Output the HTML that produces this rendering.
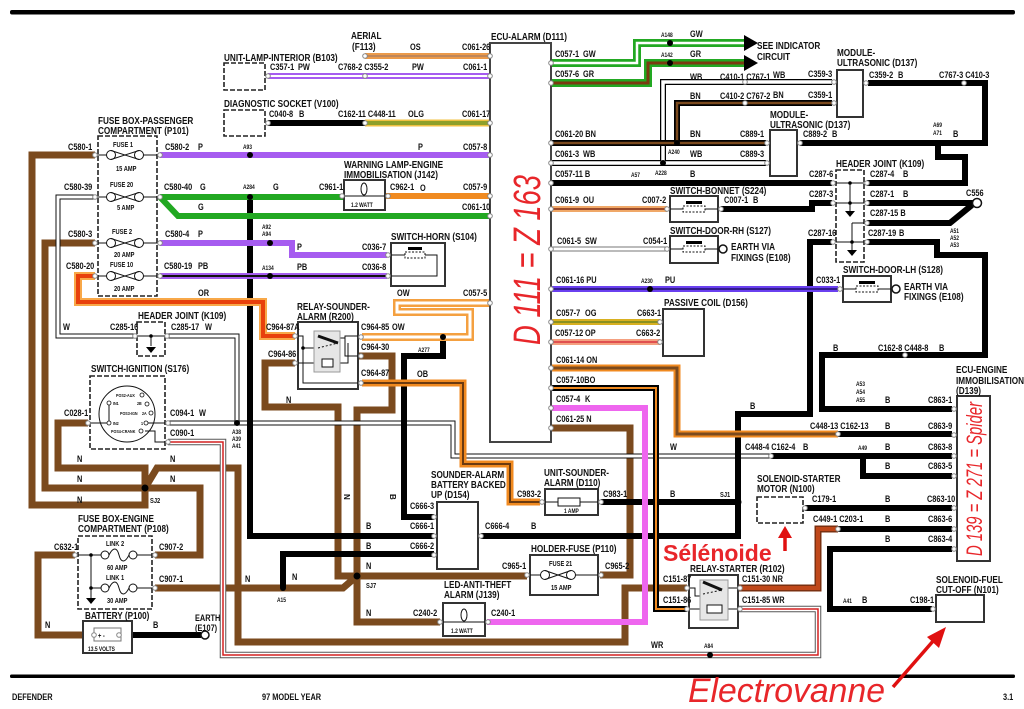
<!DOCTYPE html>
<html><head><meta charset="utf-8">
<style>
html,body{margin:0;padding:0;background:#fff;}
svg{display:block;}
.lb text{font-family:"Liberation Sans",Arial,sans-serif;font-weight:bold;font-size:9px;fill:#111;transform-box:fill-box;transform-origin:0 50%;transform:scaleX(.82);}
.lb text.h{font-size:10px;}
.lb text.s{font-size:6px;}
.lb text.s2{font-size:7px;}
.lb text.xs{font-size:4.5px;}
.w path{fill:none;stroke-linejoin:miter;stroke-linecap:butt;}
.cn circle{fill:#fff;stroke:#888;stroke-width:1;}
.jd circle{fill:#000;}
.bx rect{fill:#fff;stroke:#333;stroke-width:2;}
.db rect{fill:none;stroke:#222;stroke-width:1.6;stroke-dasharray:5 2;}
.th{fill:none;stroke:#111;stroke-width:1;}
.red{font-family:"Liberation Sans",Arial,sans-serif;fill:#e8262a;}
</style></head><body>
<svg width="1024" height="709" viewBox="0 0 1024 709" xmlns="http://www.w3.org/2000/svg">
<rect x="0" y="0" width="1024" height="709" fill="#fff"/>
<rect x="10" y="10" width="1005" height="4.5" rx="2" fill="#000"/>
<rect x="10" y="674.5" width="1005" height="3.5" rx="1.5" fill="#000"/>

<g class="w">
<g stroke="#7b4a1e" stroke-width="7">
<path d="M95,155H32V505H145V488"/>
<path d="M95,243H45V488H200V555H155"/>
<path d="M88,423H58V468H145V488"/>
<path d="M145,488L157,468H238V642H625V588H687"/>
<path d="M75,555H38V635H92"/>
<path d="M155,588H343L357,576"/>
<path d="M295,363H265V407H338V576H527"/>
<path d="M358,356H392V410H357V622H440"/>
<path d="M600,575H630V428H551"/>
</g>
<g stroke="#111" stroke-width="5">
<path d="M95,197H58V336H135"/>
<path d="M167,336H237V423"/>
<path d="M168,423H453V456H771"/>
</g>
<g stroke="#fff" stroke-width="3">
<path d="M95,197H58V336H135"/>
<path d="M167,336H237V423"/>
<path d="M168,423H453V456H771"/>
</g>
<path d="M168,442H223V655H818V609H738" stroke="#555" stroke-width="6.5"/>
<path d="M168,442H223V655H818V609H738" stroke="#fff" stroke-width="4.5"/>
<path d="M168,442H223V655H818V609H738" stroke="#d42020" stroke-width="1.5"/>
<g stroke="#000" stroke-width="6">
<path d="M268,123H365"/>
<path d="M250,197V536H434"/>
<path d="M443,337V356H404V517H434"/>
<path d="M283,588V554H434"/>
<path d="M601,502H738"/>
<path d="M481,536H738V414H810V242H832"/>
<path d="M551,183H832"/>
<path d="M721,209H812V203H832"/>
<path d="M868,83H985V143H800"/>
<path d="M938,143V157H965V183H867"/>
<path d="M867,203H975"/>
<path d="M867,223H950L972,205"/>
<path d="M867,242H937V255H985V355H822V409H952"/>
<path d="M838,434H952"/>
<path d="M771,456H952"/>
<path d="M863,456V476H952"/>
<path d="M805,508H952"/>
<path d="M838,529H952"/>
<path d="M952,549H830V609H932"/>
<path d="M120,635H201"/>
</g>
<g stroke="#a65cf0" stroke-width="6">
<path d="M160,155H490"/>
<path d="M160,243H292V255H387"/>
<path d="M160,276H387"/>
<path d="M268,76H490"/>
</g>
<path d="M160,276H387" stroke="#111" stroke-width="2"/>
<path d="M268,76H490" stroke="#fff" stroke-width="2"/>
<g stroke="#22a822" stroke-width="6">
<path d="M160,197H345"/>
<path d="M160,197L178,216H490"/>
</g>
<path d="M551,63H637V43H745" stroke="#22a822" stroke-width="8"/>
<path d="M551,63H637V43H745" stroke="#fff" stroke-width="2.5"/>
<path d="M551,83H648V63H745" stroke="#22a822" stroke-width="8"/>
<path d="M551,83H648V63H745" stroke="#7b3a10" stroke-width="3"/>
<path d="M385,196H490" stroke="#f08a20" stroke-width="6"/>
<path d="M365,56H490" stroke="#eb9a4a" stroke-width="6"/>
<path d="M365,56H490" stroke="#b08060" stroke-width="1.5"/>
<path d="M365,123H490" stroke="#f0c040" stroke-width="7"/>
<path d="M365,123H490" stroke="#8ea02a" stroke-width="4"/>
<path d="M95,276H78V302H263V336H295" stroke="#f8a848" stroke-width="8"/>
<path d="M95,276H78V302H263V336H295" stroke="#e8400c" stroke-width="4"/>
<path d="M490,303H397V312H470V337H362" stroke="#f4a040" stroke-width="8"/>
<path d="M490,303H397V312H470V337H362" stroke="#fff" stroke-width="3"/>
<path d="M362,383H463V464H510V502H540" stroke="#f08a20" stroke-width="7"/>
<path d="M362,383H463V464H510V502H540" stroke="#6b3a10" stroke-width="2"/>
<path d="M551,368H677V434H838" stroke="#f08a20" stroke-width="7"/>
<path d="M551,368H677V434H838" stroke="#7b4a1e" stroke-width="3"/>
<path d="M551,388H656V609H687" stroke="#000" stroke-width="6"/>
<path d="M551,388H656V609H687" stroke="#f08a20" stroke-width="2"/>
<path d="M551,408H645V622H487" stroke="#ee66ee" stroke-width="6"/>
<g stroke="#000" stroke-width="6"><path d="M551,163H766"/><path d="M663,163V82H832"/></g>
<g stroke="#fff" stroke-width="3.5"><path d="M551,163H766"/><path d="M663,163V82H832"/></g>
<g stroke="#000" stroke-width="6"><path d="M551,143H766"/><path d="M677,143V103H832"/></g>
<g stroke="#7b4a1e" stroke-width="2.5"><path d="M551,143H766"/><path d="M677,143V103H832"/></g>
<path d="M551,209H667" stroke="#f0a868" stroke-width="6"/>
<path d="M551,209H667" stroke="#9b4a2a" stroke-width="2"/>
<path d="M551,249H667" stroke="#777" stroke-width="5"/>
<path d="M551,249H667" stroke="#fff" stroke-width="3"/>
<path d="M551,289H838" stroke="#6a40f0" stroke-width="6"/>
<path d="M551,289H838" stroke="#20106a" stroke-width="1.5"/>
<path d="M551,322H660" stroke="#d8b020" stroke-width="6"/>
<path d="M551,322H660" stroke="#8a9020" stroke-width="2"/>
<path d="M551,342H660" stroke="#f4a080" stroke-width="6"/>
<path d="M551,342H660" stroke="#e05050" stroke-width="2"/>
<path d="M738,588H818V529H838" stroke="#7b3010" stroke-width="7"/>
<path d="M738,588H818V529H838" stroke="#c0481a" stroke-width="4"/>
</g>

<path d="M744,35L758,43L744,51Z" fill="#000"/>
<path d="M744,55L758,63L744,71Z" fill="#000"/>

<g class="bx">
<rect x="490" y="43" width="61" height="399" style="stroke:#444"/>
<rect x="344" y="180" width="41" height="30"/>
<rect x="391" y="243" width="54" height="43"/>
<rect x="298" y="322" width="60" height="67"/>
<rect x="437" y="502" width="41" height="67"/>
<rect x="545" y="489" width="53" height="26"/>
<rect x="530" y="555" width="68" height="40"/>
<rect x="443" y="603" width="42" height="33"/>
<rect x="689" y="575" width="49" height="53"/>
<rect x="670" y="196" width="48" height="26"/>
<rect x="670" y="236" width="48" height="27"/>
<rect x="663" y="309" width="41" height="47"/>
<rect x="837" y="70" width="26" height="47"/>
<rect x="770" y="130" width="27" height="46"/>
<rect x="843" y="276" width="48" height="26"/>
<rect x="957" y="396" width="33" height="165"/>
<rect x="936" y="595" width="48" height="27"/>
<rect x="83" y="621" width="49" height="32"/>
</g>
<g fill="#fff" stroke="none">
<rect x="224" y="63" width="41" height="27"/><rect x="224" y="110" width="41" height="26"/>
<rect x="757" y="497" width="46" height="26"/>
</g>
<g class="db">
<rect x="98" y="136" width="59" height="160"/>
<rect x="224" y="63" width="41" height="27"/>
<rect x="224" y="110" width="41" height="26"/>
<rect x="137" y="322" width="28" height="34"/>
<rect x="90" y="376" width="75" height="73"/>
<rect x="78" y="536" width="74" height="73"/>
<rect x="836" y="170" width="28" height="92"/>
<rect x="757" y="497" width="46" height="26"/>
</g>

<g class="th" stroke-width="1.2">
<path d="M95,155H107M143,155H160M95,197H107M143,197H160M95,243H107M143,243H160M95,276H107M143,276H160"/>
<g fill="#fff">
<circle cx="111" cy="155" r="4.5"/><circle cx="139" cy="155" r="4.5"/>
<circle cx="111" cy="197" r="4.5"/><circle cx="139" cy="197" r="4.5"/>
<circle cx="111" cy="243" r="4.5"/><circle cx="139" cy="243" r="4.5"/>
<circle cx="111" cy="276" r="4.5"/><circle cx="139" cy="276" r="4.5"/>
</g>
<path d="M111,150.5L139,159.5M111,159.5L139,150.5M111,192.5L139,201.5M111,201.5L139,192.5M111,238.5L139,247.5M111,247.5L139,238.5M111,271.5L139,280.5M111,280.5L139,271.5"/>
<path d="M527,575H541M575,575H600"/>
<circle cx="545" cy="575" r="4.5" fill="#fff"/><circle cx="571" cy="575" r="4.5" fill="#fff"/>
<path d="M545,570.5L571,579.5M545,579.5L571,570.5"/>
<path d="M75,555H101M137,555H155M91,555V598M91,588H101M137,588H155"/>
<circle cx="105" cy="555" r="4" fill="#fff"/><circle cx="133" cy="555" r="4" fill="#fff"/>
<circle cx="105" cy="588" r="4" fill="#fff"/><circle cx="133" cy="588" r="4" fill="#fff"/>
<path d="M109,555c4,-8 8,-8 10,0s6,8 10,0M109,588c4,-8 8,-8 10,0s6,8 10,0"/>
<path d="M137,336H165M151,336V346"/>
<path d="M836,183H864M836,203H864M850,183V211M852,223H867M852,223V250M836,242H864"/>
<circle cx="127" cy="414" r="28" fill="#fff"/>
<path d="M88,423H108M109,403V422M146,423H168M145,431H155V442H168"/>
<path d="M344,196H385M443,622H485"/>
<ellipse cx="364" cy="189" rx="3" ry="6" fill="#fff"/>
<ellipse cx="464" cy="615" rx="3" ry="6" fill="#fff"/>
<path d="M391,255H405M425,255H437V276H391"/>
<path d="M670,209H718M670,249H718V249H719M843,289H891"/>
<path d="M545,502H558M580,502H598"/>
<path d="M298,336H303V383H358M303,348H317M340,338H345V336H358M345,336V356H358M298,363H322M333,363H348V343"/>
<path d="M689,588H695V596H703M722,588H738M689,609H707M722,609H738"/>
<path d="M92,635H96"/>
</g>
<g fill="#e6e6e6" stroke="#999" stroke-width="1">
<rect x="314" y="331" width="26" height="41"/>
<rect x="700" y="580" width="28" height="40"/>
</g>
<g fill="#fff" stroke="#111" stroke-width="1">
<rect x="322" y="359" width="11" height="8"/>
<rect x="707" y="605" width="15" height="8"/>
<rect x="558" y="498" width="22" height="8"/>
<rect x="94" y="628" width="27" height="13" stroke="#777"/>
<path d="M318,336L338,343" stroke-width="3"/>
<path d="M318,348L338,343" stroke-dasharray="2 2"/>
<path d="M703,582L722,590" stroke-width="3"/>
<path d="M703,594L722,590" stroke-dasharray="2 2"/>
<rect x="405" y="252" width="20" height="6" stroke-dasharray="2 1.5"/>
<rect x="683" y="206" width="22" height="6" stroke-dasharray="2 1.5"/>
<rect x="683" y="246" width="22" height="6" stroke-dasharray="2 1.5"/>
<rect x="856" y="286" width="22" height="6" stroke-dasharray="2 1.5"/>
</g>
<g fill="#000">
<rect x="408" y="247" width="14" height="3"/>
<rect x="686" y="201" width="16" height="3"/>
<rect x="686" y="241" width="16" height="3"/>
<rect x="859" y="281" width="16" height="3"/>
<path d="M146,347H156L151,353Z"/>
<path d="M845,211H855L850,217Z"/>
<path d="M847,250H857L852,256Z"/>
<path d="M86,598H96L91,604Z"/>
</g>
<g fill="#fff" stroke="#111" stroke-width=".8">
<circle cx="109" cy="403" r="2"/><circle cx="109" cy="423" r="2"/><circle cx="142" cy="395" r="2"/>
<circle cx="147" cy="404" r="2"/><circle cx="151" cy="413" r="2"/><circle cx="146" cy="423" r="2"/><circle cx="141" cy="431" r="2"/>
</g>
<g fill="#fff" stroke="#111" stroke-width="1.5">
<circle cx="205" cy="635" r="4"/><circle cx="977" cy="203" r="4.5"/><circle cx="723" cy="249" r="4"/><circle cx="896" cy="289" r="4"/>
</g>

<g class="cn">
<circle cx="95" cy="155" r="2.3"/><circle cx="160" cy="155" r="2.3"/><circle cx="95" cy="197" r="2.3"/><circle cx="160" cy="197" r="2.3"/>
<circle cx="95" cy="243" r="2.3"/><circle cx="160" cy="243" r="2.3"/><circle cx="95" cy="276" r="2.3"/><circle cx="160" cy="276" r="2.3"/>
<circle cx="490" cy="56" r="2.3"/><circle cx="490" cy="76" r="2.3"/><circle cx="490" cy="123" r="2.3"/><circle cx="490" cy="155" r="2.3"/>
<circle cx="490" cy="196" r="2.3"/><circle cx="490" cy="216" r="2.3"/><circle cx="490" cy="303" r="2.3"/>
<circle cx="551" cy="63" r="2.3"/><circle cx="551" cy="83" r="2.3"/><circle cx="551" cy="143" r="2.3"/><circle cx="551" cy="163" r="2.3"/>
<circle cx="551" cy="183" r="2.3"/><circle cx="551" cy="209" r="2.3"/><circle cx="551" cy="249" r="2.3"/><circle cx="551" cy="289" r="2.3"/>
<circle cx="551" cy="322" r="2.3"/><circle cx="551" cy="342" r="2.3"/><circle cx="551" cy="368" r="2.3"/><circle cx="551" cy="388" r="2.3"/>
<circle cx="551" cy="408" r="2.3"/><circle cx="551" cy="428" r="2.3"/>
<circle cx="365" cy="56" r="2.3"/><circle cx="268" cy="76" r="2.3"/><circle cx="365" cy="76" r="2.3"/><circle cx="268" cy="123" r="2.3"/>
<circle cx="365" cy="123" r="2.3"/><circle cx="342" cy="196" r="2.3"/><circle cx="388" cy="196" r="2.3"/><circle cx="388" cy="255" r="2.3"/>
<circle cx="388" cy="276" r="2.3"/><circle cx="135" cy="336" r="2.3"/><circle cx="167" cy="336" r="2.3"/><circle cx="88" cy="423" r="2.3"/>
<circle cx="168" cy="423" r="2.3"/><circle cx="168" cy="442" r="2.3"/><circle cx="295" cy="336" r="2.3"/><circle cx="295" cy="363" r="2.3"/>
<circle cx="361" cy="337" r="2.3"/><circle cx="361" cy="356" r="2.3"/><circle cx="361" cy="383" r="2.3"/>
<circle cx="434" cy="517" r="2.3"/><circle cx="434" cy="536" r="2.3"/><circle cx="434" cy="555" r="2.3"/><circle cx="481" cy="536" r="2.3"/>
<circle cx="542" cy="502" r="2.3"/><circle cx="601" cy="502" r="2.3"/><circle cx="527" cy="575" r="2.3"/><circle cx="601" cy="575" r="2.3"/>
<circle cx="440" cy="622" r="2.3"/><circle cx="488" cy="622" r="2.3"/><circle cx="687" cy="588" r="2.3"/><circle cx="687" cy="609" r="2.3"/>
<circle cx="740" cy="588" r="2.3"/><circle cx="740" cy="609" r="2.3"/><circle cx="75" cy="555" r="2.3"/><circle cx="155" cy="555" r="2.3"/>
<circle cx="155" cy="588" r="2.3"/><circle cx="94" cy="635" r="2.3"/><circle cx="119" cy="635" r="2.3"/>
<circle cx="667" cy="209" r="2.3"/><circle cx="721" cy="209" r="2.3"/><circle cx="667" cy="249" r="2.3"/>
<circle cx="660" cy="322" r="2.3"/><circle cx="660" cy="342" r="2.3"/><circle cx="767" cy="143" r="2.3"/><circle cx="767" cy="163" r="2.3"/>
<circle cx="800" cy="143" r="2.3"/><circle cx="834" cy="82" r="2.3"/><circle cx="834" cy="103" r="2.3"/><circle cx="866" cy="83" r="2.3"/>
<circle cx="964" cy="83" r="2.3"/><circle cx="833" cy="183" r="2.3"/><circle cx="867" cy="183" r="2.3"/><circle cx="833" cy="203" r="2.3"/>
<circle cx="867" cy="203" r="2.3"/><circle cx="867" cy="223" r="2.3"/><circle cx="833" cy="242" r="2.3"/><circle cx="867" cy="242" r="2.3"/>
<circle cx="840" cy="289" r="2.3"/><circle cx="905" cy="355" r="2.3"/><circle cx="838" cy="434" r="2.3"/>
<circle cx="954" cy="409" r="2.3"/><circle cx="954" cy="435" r="2.3"/><circle cx="954" cy="456" r="2.3"/><circle cx="954" cy="476" r="2.3"/>
<circle cx="954" cy="508" r="2.3"/><circle cx="954" cy="529" r="2.3"/><circle cx="954" cy="549" r="2.3"/>
<circle cx="771" cy="456" r="2.3"/><circle cx="805" cy="508" r="2.3"/><circle cx="838" cy="529" r="2.3"/><circle cx="933" cy="609" r="2.3"/>
<circle cx="745" cy="82" r="2.3"/><circle cx="745" cy="103" r="2.3"/>
</g>
<g class="jd">
<circle cx="250" cy="155" r="3"/><circle cx="250" cy="197" r="3"/><circle cx="270" cy="243" r="3"/><circle cx="270" cy="276" r="3"/>
<circle cx="237" cy="423" r="3"/><circle cx="145" cy="488" r="3.5"/><circle cx="357" cy="576" r="3.5"/><circle cx="283" cy="588" r="3"/>
<circle cx="443" cy="337" r="3"/><circle cx="738" cy="502" r="3.5"/><circle cx="670" cy="43" r="3"/><circle cx="670" cy="63" r="3"/>
<circle cx="663" cy="163" r="3"/><circle cx="677" cy="143" r="3"/><circle cx="637" cy="183" r="3"/><circle cx="650" cy="289" r="3"/>
<circle cx="938" cy="143" r="3"/><circle cx="957" cy="255" r="3"/><circle cx="863" cy="409" r="3"/><circle cx="863" cy="456" r="3"/>
<circle cx="849" cy="609" r="3"/><circle cx="710" cy="655" r="3"/>
<circle cx="151" cy="336" r="1.8"/><circle cx="850" cy="183" r="1.8"/><circle cx="850" cy="203" r="1.8"/><circle cx="852" cy="242" r="1.8"/>
<circle cx="91" cy="555" r="1.8"/><circle cx="91" cy="588" r="1.8"/><circle cx="303" cy="348" r="1.8"/>
</g>

<g class="lb">
<text x="224" y="61" class="h">UNIT-LAMP-INTERIOR (B103)</text>
<text x="351" y="39" class="h">AERIAL</text><text x="352" y="50" class="h">(F113)</text>
<text x="410" y="50">OS</text><text x="462" y="50">C061-26</text>
<text x="270" y="70">C357-1</text><text x="298" y="70">PW</text><text x="338" y="70">C768-2 C355-2</text><text x="412" y="70">PW</text><text x="463" y="70">C061-1</text>
<text x="224" y="107" class="h">DIAGNOSTIC SOCKET (V100)</text>
<text x="269" y="117">C040-8</text><text x="299" y="117">B</text><text x="338" y="117">C162-11 C448-11</text><text x="408" y="117">OLG</text><text x="462" y="117">C061-17</text>
<text x="243" y="149" class="s">A93</text><text x="418" y="150">P</text><text x="463" y="150">C057-8</text>
<text x="344" y="168" class="h">WARNING LAMP-ENGINE</text><text x="344" y="178" class="h">IMMOBILISATION (J142)</text>
<text x="319" y="190">C961-1</text><text x="390" y="190">C962-1</text><text x="420" y="191">O</text><text x="463" y="190">C057-9</text>
<text x="243" y="189" class="s">A284</text><text x="273" y="190">G</text>
<text x="198" y="210">G</text><text x="462" y="210">C061-10</text>
<text x="351" y="207" class="s">1.2 WATT</text>
<text x="262" y="229" class="s">A92</text><text x="262" y="236" class="s">A94</text>
<text x="391" y="240" class="h">SWITCH-HORN (S104)</text>
<text x="297" y="250">P</text><text x="362" y="250">C036-7</text>
<text x="262" y="270" class="s">A134</text><text x="297" y="270">PB</text><text x="362" y="270">C036-8</text>
<text x="397" y="296">OW</text><text x="463" y="296">C057-5</text>
<text x="297" y="310" class="h">RELAY-SOUNDER-</text><text x="297" y="320" class="h">ALARM (R200)</text>
<text x="266" y="330">C964-87A</text><text x="361" y="330">C964-85</text><text x="392" y="330">OW</text>
<text x="361" y="350">C964-30</text><text x="418" y="352" class="s">A277</text>
<text x="268" y="357">C964-86</text>
<text x="361" y="376">C964-87</text><text x="417" y="377">OB</text>
<text x="286" y="403">N</text>

<text x="98" y="124" class="h">FUSE BOX-PASSENGER</text><text x="98" y="134" class="h">COMPARTMENT (P101)</text>
<text x="68" y="150">C580-1</text><text x="113" y="147" class="s2">FUSE 1</text><text x="116" y="171" class="s2">15 AMP</text><text x="165" y="150">C580-2</text><text x="198" y="150">P</text>
<text x="64" y="190">C580-39</text><text x="110" y="187" class="s2">FUSE 20</text><text x="117" y="210" class="s2">5 AMP</text><text x="164" y="190">C580-40</text><text x="200" y="190">G</text>
<text x="68" y="237">C580-3</text><text x="112" y="234" class="s2">FUSE 2</text><text x="114" y="257" class="s2">20 AMP</text><text x="165" y="237">C580-4</text><text x="198" y="237">P</text>
<text x="66" y="269">C580-20</text><text x="110" y="267" class="s2">FUSE 10</text><text x="114" y="291" class="s2">20 AMP</text><text x="164" y="269">C580-19</text><text x="198" y="269">PB</text>
<text x="198" y="296">OR</text>
<text x="138" y="319" class="h">HEADER JOINT (K109)</text>
<text x="63" y="330">W</text><text x="110" y="330">C285-16</text><text x="171" y="330">C285-17</text><text x="205" y="330">W</text>
<text x="91" y="372" class="h">SWITCH-IGNITION (S176)</text>
<text x="64" y="416">C028-1</text><text x="170" y="416">C094-1</text><text x="199" y="416">W</text><text x="170" y="436">C090-1</text>
<text x="232" y="434" class="s">A38</text><text x="232" y="441" class="s">A39</text><text x="232" y="448" class="s">A41</text>
<text x="116" y="397" class="xs">POS2-AUX</text><text x="113" y="405" class="xs">IN1</text><text x="137" y="405" class="xs">2B</text>
<text x="120" y="415" class="xs">POS3-IGN</text><text x="142" y="415" class="xs">2A</text><text x="113" y="425" class="xs">IN2</text><text x="141" y="425" class="xs">1</text>
<text x="111" y="433" class="xs">POS4-CRANK</text>
<text x="77" y="462">N</text><text x="170" y="462">N</text><text x="77" y="482">N</text><text x="170" y="482">N</text><text x="77" y="503">N</text><text x="150" y="503" class="s2">SJ2</text>
<text x="78" y="522" class="h">FUSE BOX-ENGINE</text><text x="78" y="532" class="h">COMPARTMENT (P108)</text>
<text x="54" y="550">C632-1</text><text x="106" y="546" class="s2">LINK 2</text><text x="107" y="570" class="s2">60 AMP</text>
<text x="106" y="580" class="s2">LINK 1</text><text x="107" y="603" class="s2">30 AMP</text>
<text x="159" y="550">C907-2</text><text x="159" y="582">C907-1</text><text x="245" y="582">N</text>
<text x="85" y="619" class="h">BATTERY (P100)</text><text x="45" y="628">N</text><text x="153" y="628">B</text>
<text x="195" y="621">EARTH</text><text x="195" y="631">(E107)</text>
<text x="98" y="638" class="s2">+  -</text>
<text x="88" y="651" class="s">13.5 VOLTS</text>
<text x="12" y="700">DEFENDER</text><text x="262" y="700">97 MODEL YEAR</text><text x="1003" y="700">3.1</text>

<text x="366" y="529">B</text><text x="366" y="549">B</text><text x="366" y="569">N</text><text x="366" y="588" class="s2">SJ7</text><text x="366" y="616">N</text>
<text x="292" y="580">N</text><text x="277" y="602" class="s">A15</text>
<text x="431" y="478" class="h">SOUNDER-ALARM</text><text x="431" y="488" class="h">BATTERY BACKED</text><text x="431" y="498" class="h">UP (D154)</text>
<text x="410" y="509">C666-3</text><text x="410" y="529">C666-1</text><text x="410" y="549">C666-2</text><text x="485" y="529">C666-4</text>
<text x="444" y="588" class="h">LED-ANTI-THEFT</text><text x="444" y="598" class="h">ALARM (J139)</text>
<text x="413" y="616">C240-2</text><text x="491" y="616">C240-1</text><text x="451" y="633" class="s">1.2 WATT</text>
<text x="544" y="476" class="h">UNIT-SOUNDER-</text><text x="544" y="486" class="h">ALARM (D110)</text>
<text x="517" y="497">C983-2</text><text x="603" y="497">C983-1</text><text x="670" y="497">B</text><text x="720" y="497" class="s2">SJ1</text>
<text x="564" y="513" class="s">1 AMP</text>
<text x="531" y="529">B</text>
<text x="531" y="552" class="h">HOLDER-FUSE (P110)</text>
<text x="502" y="569">C965-1</text><text x="605" y="569">C965-2</text>
<text x="549" y="566" class="s2">FUSE 21</text><text x="551" y="590" class="s2">15 AMP</text>
<text x="663" y="582">C151-87</text><text x="663" y="603">C151-86</text>
<text x="690" y="572" class="h">RELAY-STARTER (R102)</text>
<text x="742" y="582">C151-30 NR</text><text x="742" y="603">C151-85 WR</text>
<text x="651" y="648">WR</text><text x="704" y="648" class="s">A84</text>

<text x="491" y="40" class="h">ECU-ALARM (D111)</text>
<text x="661" y="37" class="s">A148</text><text x="690" y="37">GW</text><text x="555" y="57">C057-1</text><text x="583" y="57">GW</text>
<text x="661" y="57" class="s">A142</text><text x="690" y="57">GR</text><text x="555" y="77">C057-6</text><text x="583" y="77">GR</text>
<text x="757" y="49" class="h">SEE INDICATOR</text><text x="757" y="60" class="h">CIRCUIT</text>
<text x="690" y="80">WB</text><text x="720" y="80">C410-1 C767-1</text><text x="773" y="78">WB</text><text x="808" y="77">C359-3</text>
<text x="837" y="56" class="h">MODULE-</text><text x="837" y="66" class="h">ULTRASONIC (D137)</text>
<text x="869" y="78">C359-2</text><text x="898" y="78">B</text><text x="939" y="78">C767-3 C410-3</text>
<text x="690" y="99">BN</text><text x="720" y="99">C410-2 C767-2</text><text x="773" y="98">BN</text><text x="808" y="98">C359-1</text>
<text x="770" y="118" class="h">MODULE-</text><text x="770" y="128" class="h">ULTRASONIC (D137)</text>
<text x="555" y="137">C061-20 BN</text><text x="690" y="137">BN</text><text x="740" y="137">C889-1</text><text x="803" y="137">C889-2</text><text x="832" y="137">B</text>
<text x="933" y="127" class="s">A69</text><text x="933" y="135" class="s">A71</text><text x="953" y="137">B</text>
<text x="555" y="157">C061-3</text><text x="583" y="157">WB</text><text x="668" y="154" class="s">A240</text><text x="690" y="157">WB</text><text x="740" y="157">C889-3</text>
<text x="836" y="167" class="h">HEADER JOINT (K109)</text>
<text x="555" y="177">C057-11 B</text><text x="631" y="177" class="s">A57</text><text x="655" y="175" class="s">A228</text><text x="690" y="177">B</text>
<text x="809" y="177">C287-6</text><text x="870" y="177">C287-4</text><text x="903" y="177">B</text>
<text x="670" y="194" class="h">SWITCH-BONNET (S224)</text>
<text x="555" y="203">C061-9</text><text x="583" y="203">OU</text><text x="642" y="203">C007-2</text><text x="724" y="203">C007-1</text><text x="753" y="203">B</text>
<text x="809" y="197">C287-3</text><text x="870" y="197">C287-1</text><text x="903" y="197">B</text><text x="966" y="196">C556</text>
<text x="870" y="216">C287-15 B</text>
<text x="670" y="234" class="h">SWITCH-DOOR-RH (S127)</text>
<text x="808" y="236">C287-16</text><text x="868" y="236">C287-19</text><text x="899" y="236">B</text>
<text x="950" y="233" class="s">A51</text><text x="950" y="240" class="s">A52</text><text x="950" y="247" class="s">A53</text>
<text x="557" y="244">C061-5</text><text x="585" y="244">SW</text><text x="643" y="244">C054-1</text>
<text x="731" y="250" class="h">EARTH VIA</text><text x="731" y="261" class="h">FIXINGS (E108)</text>
<text x="556" y="283">C061-16 PU</text><text x="641" y="283" class="s">A230</text><text x="665" y="283">PU</text>
<text x="843" y="273" class="h">SWITCH-DOOR-LH (S128)</text><text x="816" y="283">C033-1</text>
<text x="904" y="290" class="h">EARTH VIA</text><text x="904" y="300" class="h">FIXINGS (E108)</text>
<text x="664" y="306" class="h">PASSIVE COIL (D156)</text>
<text x="556" y="316">C057-7</text><text x="585" y="316">OG</text><text x="637" y="316">C663-1</text>
<text x="555" y="336">C057-12</text><text x="585" y="336">OP</text><text x="636" y="336">C663-2</text>
<text x="833" y="351">B</text><text x="878" y="351">C162-8 C448-8</text><text x="939" y="351">B</text>
<text x="556" y="363">C061-14 ON</text>
<text x="956" y="373" class="h">ECU-ENGINE</text><text x="956" y="384" class="h">IMMOBILISATION</text><text x="956" y="394" class="h">(D139)</text>
<text x="556" y="383">C057-10BO</text>
<text x="856" y="386" class="s">A53</text><text x="856" y="394" class="s">A54</text><text x="856" y="402" class="s">A55</text>
<text x="885" y="403">B</text><text x="928" y="403">C863-1</text>
<text x="556" y="402">C057-4</text><text x="585" y="402">K</text><text x="750" y="409">B</text>
<text x="556" y="422">C061-25 N</text>
<text x="810" y="429">C448-13 C162-13</text><text x="885" y="429">B</text><text x="928" y="429">C863-9</text>
<text x="670" y="450">W</text><text x="745" y="450">C448-4 C162-4</text><text x="803" y="450">B</text><text x="858" y="450" class="s">A49</text><text x="885" y="450">B</text><text x="928" y="450">C863-8</text>
<text x="885" y="469">B</text><text x="928" y="469">C863-5</text>
<text x="757" y="482" class="h">SOLENOID-STARTER</text><text x="757" y="492" class="h">MOTOR (N100)</text>
<text x="812" y="502">C179-1</text><text x="885" y="502">B</text><text x="927" y="502">C863-10</text>
<text x="813" y="522">C449-1 C203-1</text><text x="885" y="522">B</text><text x="928" y="522">C863-6</text>
<text x="885" y="542">B</text><text x="928" y="542">C863-4</text>
<text x="936" y="583" class="h">SOLENOID-FUEL</text><text x="936" y="593" class="h">CUT-OFF (N101)</text>
<text x="843" y="603" class="s">A41</text><text x="862" y="603">B</text><text x="910" y="603">C198-1</text>
</g>
<g font-family="Liberation Sans, Arial, sans-serif" font-weight="bold" font-size="8" fill="#111">
<text transform="translate(344,494) rotate(90)">N</text>
<text transform="translate(390,494) rotate(90)">B</text>
</g>

<text class="red" transform="translate(540,260) rotate(-90)" text-anchor="middle" font-size="38" font-style="italic" textLength="170" lengthAdjust="spacingAndGlyphs">D 111 = Z 163</text>
<text class="red" transform="translate(982,479) rotate(-90)" text-anchor="middle" font-size="22" font-style="italic" textLength="154" lengthAdjust="spacingAndGlyphs">D 139 = Z 271 = Spider</text>
<text class="red" x="663" y="561" font-size="23" font-weight="bold" fill="#e01010">Sélénoide</text>
<text class="red" x="688" y="702" font-size="34" font-style="italic" textLength="197" lengthAdjust="spacingAndGlyphs">Electrovanne</text>
<g stroke="#e01010" stroke-width="3.5" fill="none"><path d="M785,551V535"/><path d="M893,687L934,640"/></g>
<g fill="#e01010"><path d="M785,526L778,538H792Z"/><path d="M946,627L927,637L939,648Z"/></g>
</svg>
</body></html>
